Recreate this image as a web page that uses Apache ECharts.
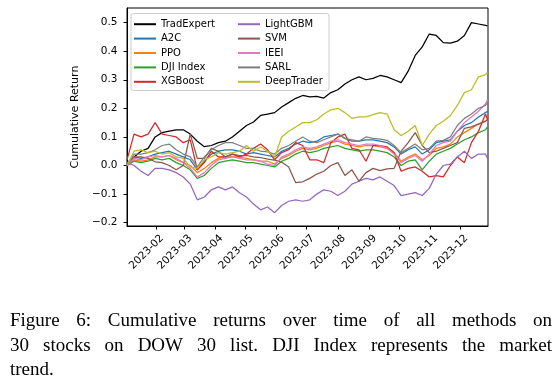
<!DOCTYPE html>
<html><head><meta charset="utf-8">
<script src="https://cdn.jsdelivr.net/npm/echarts@6/dist/echarts.min.js"></script>
<style>html,body{margin:0;padding:0;background:#fff}#c{width:559px;height:386px}</style>
</head><body><div id="c"></div><script>
const dates = ['2023-01-03','2023-01-10','2023-01-17','2023-01-24','2023-01-31',
'2023-02-07','2023-02-14','2023-02-21','2023-02-28',
'2023-03-07','2023-03-14','2023-03-21','2023-03-28',
'2023-04-04','2023-04-11','2023-04-18','2023-04-25',
'2023-05-02','2023-05-09','2023-05-16','2023-05-23','2023-05-30',
'2023-06-06','2023-06-13','2023-06-20','2023-06-27',
'2023-07-04','2023-07-11','2023-07-18','2023-07-25',
'2023-08-01','2023-08-08','2023-08-15','2023-08-22','2023-08-29',
'2023-09-05','2023-09-12','2023-09-19','2023-09-26',
'2023-10-03','2023-10-10','2023-10-17','2023-10-24','2023-10-31',
'2023-11-07','2023-11-14','2023-11-21','2023-11-28',
'2023-12-05','2023-12-12','2023-12-19','2023-12-26','2023-12-28'];

const tradExpert = [0.00,0.03,0.05,0.06,0.10,0.115,0.12,0.125,0.125,0.11,0.085,0.066,0.07,0.08,0.085,0.10,0.12,0.14,0.152,0.175,0.18,0.185,0.205,0.22,0.235,0.245,0.24,0.242,0.236,0.255,0.265,0.285,0.30,0.31,0.30,0.305,0.315,0.31,0.30,0.29,0.33,0.385,0.415,0.46,0.455,0.43,0.428,0.435,0.455,0.50,0.495,0.49,0.488];
const a2c = [0.00,0.03,0.025,0.03,0.04,0.045,0.05,0.04,0.03,0.02,-0.015,0.015,0.04,0.05,0.055,0.055,0.05,0.04,0.045,0.04,0.035,0.03,0.05,0.06,0.075,0.085,0.08,0.085,0.10,0.105,0.11,0.095,0.085,0.085,0.09,0.09,0.085,0.08,0.065,0.04,0.055,0.065,0.04,0.055,0.08,0.085,0.09,0.12,0.14,0.15,0.17,0.185,0.19];
const ppo = [0.00,0.02,0.015,0.02,0.03,0.03,0.035,0.02,0.01,0.00,-0.025,-0.01,0.01,0.025,0.03,0.03,0.03,0.025,0.02,0.015,0.015,0.005,0.025,0.035,0.05,0.06,0.055,0.06,0.07,0.08,0.085,0.075,0.07,0.065,0.07,0.07,0.065,0.06,0.045,0.015,0.03,0.04,0.02,0.035,0.06,0.065,0.075,0.10,0.115,0.13,0.145,0.155,0.16];
const dji = [0.00,0.015,0.01,0.015,0.025,0.02,0.025,0.01,0.00,-0.015,-0.045,-0.035,-0.01,0.01,0.015,0.02,0.015,0.01,0.01,0.005,0.00,-0.005,0.015,0.025,0.04,0.05,0.045,0.05,0.06,0.065,0.07,0.06,0.055,0.05,0.055,0.055,0.05,0.045,0.03,0.00,0.015,0.02,-0.015,0.015,0.04,0.05,0.06,0.075,0.09,0.10,0.115,0.125,0.135];
const xgboost = [0.02,0.11,0.10,0.11,0.15,0.11,0.105,0.10,0.08,0.09,-0.015,0.01,0.05,0.03,0.03,0.04,0.03,0.04,0.06,0.075,0.055,0.02,0.045,0.055,0.08,0.07,0.02,0.02,0.01,0.08,0.10,0.11,0.06,0.055,0.015,0.07,0.07,0.065,0.045,-0.02,-0.01,-0.005,-0.02,-0.04,-0.035,-0.04,0.00,0.03,0.01,0.08,0.12,0.18,0.16];
const lightgbm = [0.01,0.00,-0.02,-0.035,-0.01,-0.01,-0.015,-0.025,-0.04,-0.065,-0.12,-0.11,-0.085,-0.075,-0.085,-0.075,-0.095,-0.11,-0.135,-0.155,-0.145,-0.165,-0.14,-0.125,-0.12,-0.125,-0.12,-0.10,-0.085,-0.09,-0.105,-0.09,-0.065,-0.055,-0.045,-0.05,-0.04,-0.055,-0.07,-0.105,-0.10,-0.095,-0.105,-0.08,-0.03,0.00,0.005,0.03,0.05,0.025,0.04,0.04,0.025];
const svm = [0.01,0.03,0.03,0.025,0.013,0.01,0.00,-0.015,0.00,0.11,0.025,0.025,0.06,0.05,0.03,0.04,0.035,0.035,0.03,0.028,0.022,0.019,0.012,-0.005,-0.06,-0.057,-0.045,-0.03,-0.02,0.00,0.01,-0.035,-0.015,-0.055,-0.025,-0.01,-0.018,-0.012,-0.01,0.05,0.08,0.115,0.07,0.045,0.05,0.06,0.07,0.08,0.13,0.135,0.145,0.155,0.16];
const ieei = [0.00,0.025,0.02,0.03,0.035,0.03,0.035,0.025,0.01,-0.01,-0.04,-0.025,0.00,0.02,0.025,0.03,0.025,0.02,0.02,0.015,0.005,0.00,0.03,0.04,0.055,0.065,0.06,0.065,0.075,0.085,0.09,0.08,0.075,0.07,0.075,0.075,0.07,0.06,0.04,0.01,0.025,0.035,0.015,0.04,0.07,0.08,0.085,0.12,0.15,0.17,0.19,0.215,0.23];
const sarl = [0.00,0.04,0.04,0.045,0.055,0.07,0.075,0.055,0.04,0.03,-0.005,0.03,0.055,0.07,0.08,0.08,0.07,0.06,0.06,0.05,0.048,0.04,0.06,0.07,0.085,0.10,0.085,0.08,0.09,0.10,0.11,0.095,0.09,0.085,0.10,0.095,0.092,0.088,0.07,0.045,0.06,0.075,0.055,0.06,0.085,0.088,0.10,0.14,0.165,0.18,0.20,0.21,0.22];
const deepTrader = [0.00,0.05,0.055,0.045,0.05,0.04,0.045,0.03,0.025,-0.005,-0.01,0.02,0.03,0.045,0.04,0.045,0.05,0.07,0.05,0.065,0.05,0.03,0.10,0.12,0.135,0.15,0.15,0.16,0.18,0.195,0.20,0.185,0.165,0.17,0.17,0.178,0.185,0.18,0.125,0.105,0.12,0.14,0.07,0.11,0.14,0.155,0.175,0.21,0.255,0.265,0.31,0.318,0.325];

const seriesNames = ['TradExpert','A2C','PPO','DJI Index','XGBoost','LightGBM','SVM','IEEI','SARL','DeepTrader'];
const seriesValues = [tradExpert,a2c,ppo,dji,xgboost,lightgbm,svm,ieei,sarl,deepTrader];
const seriesColors = ['#000000','#1f77b4','#ff7f0e','#2ca02c','#d62728','#9467bd','#8c564b','#e377c2','#7f7f7f','#bcbd22'];

const yTicks = [-0.2,-0.1,0.0,0.1,0.2,0.3,0.4,0.5];
const xTickLabels = ['2023-02','2023-03','2023-04','2023-05','2023-06','2023-07','2023-08','2023-09','2023-10','2023-11','2023-12'];
const yAxisTitle = 'Cumulative Return';
const captionLines = ['Figure 6: Cumulative returns over time of all methods on','30 stocks on DOW 30 list. DJI Index represents the market','trend.'];

const toTs = s => Date.parse(s + 'T00:00:00Z');
const xTickValues = xTickLabels.map(l => toTs(l + '-01'));
const fmtY = v => (v < -1e-9 ? '\u2212' : '') + Math.abs(v).toFixed(1);
const fmtX = v => { const i = xTickValues.findIndex(t => Math.abs(t - v) < 3600000); return i >= 0 ? xTickLabels[i] : ''; };

const axisFont = 'DejaVu Sans';
const series = seriesNames.map((n, i) => ({
  name: n, type: 'line', showSymbol: false, symbol: 'none',
  data: dates.map((d, j) => [toTs(d), seriesValues[i][j]]),
  lineStyle: { width: 1.25, color: seriesColors[i] }, itemStyle: { color: seriesColors[i] },
  animation: false
}));

// caption, justified
const ctx = document.createElement('canvas').getContext('2d');
const capFont = '19px "Liberation Serif"';
ctx.font = capFont;
const capLeft = 10, capRight = 552;
const capY = [321.5, 346.5, 370.5];
const graphics = [];
captionLines.forEach((line, li) => {
  const words = line.split(' ');
  const widths = words.map(w => ctx.measureText(w).width);
  const total = widths.reduce((a, b) => a + b, 0);
  const justify = li < captionLines.length - 1;
  const gap = justify ? (capRight - capLeft - total) / (words.length - 1) : ctx.measureText(' ').width;
  let x = capLeft;
  words.forEach((w, wi) => {
    graphics.push({ type: 'text', x: x, y: capY[li], silent: true,
      style: { text: w, font: capFont, fill: '#000', verticalAlign: 'middle', align: 'left' } });
    x += widths[wi] + gap;
  });
});
graphics.push({ type: 'rect', shape: { x: 131, y: 13.5, width: 198, height: 77, r: 2.5 }, z: 10,
  style: { fill: 'rgba(255,255,255,0.85)', stroke: '#cccccc', lineWidth: 1 } });

const legendCommon = {
  orient: 'vertical', itemWidth: 22, itemHeight: 2, itemGap: 0, icon: 'rect', z: 20,
  textStyle: { fontFamily: axisFont, fontSize: 10, color: '#000', lineHeight: 14.4 },
  padding: 0
};

const option = {
  animation: false, backgroundColor: '#fff',
  grid: { left: 127, right: 71, top: 8, bottom: 160, show: true, borderColor: '#000', borderWidth: 1, containLabel: false },
  legend: [
    Object.assign({ data: seriesNames.slice(0, 5), left: 134, top: 17 }, legendCommon),
    Object.assign({ data: seriesNames.slice(5), left: 238, top: 17 }, legendCommon)
  ],
  xAxis: {
    type: 'value', min: toTs('2023-01-03'), max: toTs('2023-12-28') + 12 * 3600000,
    axisLine: { show: true, onZero: false, lineStyle: { color: '#000', width: 1 } },
    axisTick: { show: true, inside: false, length: 3.5, lineStyle: { color: '#000', width: 1 }, customValues: xTickValues },
    axisLabel: { customValues: xTickValues, formatter: fmtX, rotate: 45, margin: 4.5, verticalAlign: 'top', lineHeight: 17, color: '#000', fontFamily: axisFont, fontSize: 10.5, hideOverlap: false, showMinLabel: true, showMaxLabel: true },
    splitLine: { show: false }
  },
  yAxis: {
    type: 'value', min: -0.2116, max: 0.551,
    name: yAxisTitle, nameLocation: 'middle', nameRotate: 90, nameGap: 39,
    nameTextStyle: { color: '#000', fontFamily: axisFont, fontSize: 11 },
    axisLine: { show: true, onZero: false, lineStyle: { color: '#000', width: 1 } },
    axisTick: { show: true, inside: false, length: 3.5, lineStyle: { color: '#000', width: 1 }, customValues: yTicks },
    axisLabel: { customValues: yTicks, formatter: fmtY, margin: 9.5, color: '#000', fontFamily: axisFont, fontSize: 10.5, showMinLabel: true, showMaxLabel: true },
    splitLine: { show: false }
  },
  graphic: graphics,
  series: series
};
const chart = echarts.init(document.getElementById('c'), null, { renderer: 'canvas' });
chart.setOption(option);
</script></body></html>
